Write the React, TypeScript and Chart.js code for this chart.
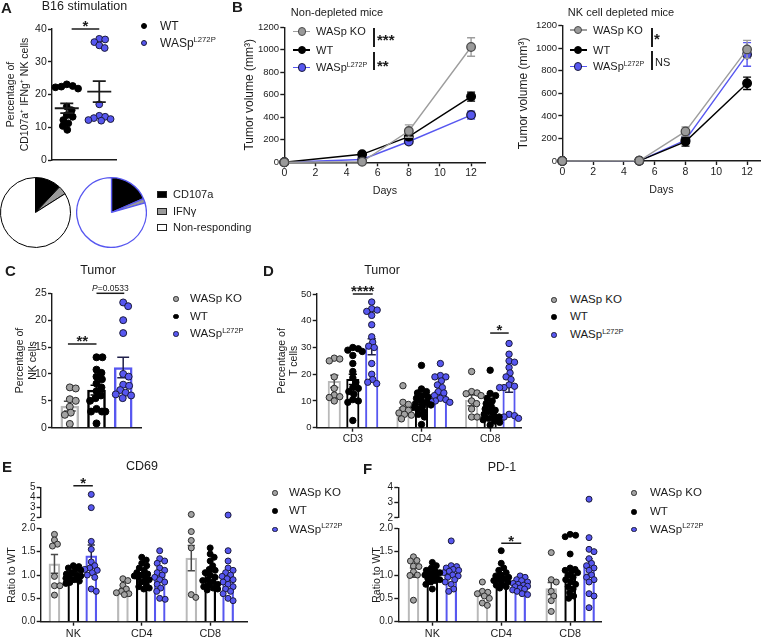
import React, { useEffect, useRef } from 'react';
import { Chart, registerables } from 'chart.js';

Chart.register(...registerables);

const FONT = '"Liberation Sans", Arial, Helvetica, sans-serif';
const INK = '#1b1b1b';
const BLUE = '#5757f0';

// ---------------- DATA ----------------
// Panel A
const aGroupLabels = ['WT', 'WASpL272P'];
const aWT = [23.1, 22.4, 22.6, 21.8, 22.2, 16.3, 15.2, 13.7, 13.2, 12.2, 11.2, 10.4, 9.2];
const aL272P = [37.0, 36.8, 36.0, 35.0, 34.2, 17.0, 13.5, 13.2, 12.8, 12.5, 12.2, 12.0];
const aMean = [15.8, 20.9];
const aSem = [1.5, 3.2];
const aYTicks = [0, 10, 20, 30, 40];
const pieLabels = ['CD107a', 'IFNγ', 'Non-responding'];
const pieWT = [12, 4, 84];
const pieL272P = [18.5, 2, 79.5];

// Panel B
const bDays = [0, 5, 8, 12];
const bXTicks = [0, 2, 4, 6, 8, 10, 12];
const bYTicks = [0, 200, 400, 600, 800, 1000, 1200];
const bNonKO = [0, 5, 278, 1025];
const bNonKOErr = [0, 3, 55, 82];
const bNonWT = [0, 71, 228, 584];
const bNonWTErr = [0, 8, 25, 40];
const bNonL = [0, 25, 185, 420];
const bNonLErr = [0, 5, 15, 35];
const bDepKO = [0, 2, 262, 990];
const bDepKOErr = [0, 2, 40, 80];
const bDepWT = [0, 2, 172, 689];
const bDepWTErr = [0, 2, 40, 55];
const bDepL = [0, 2, 186, 945];
const bDepLErr = [0, 2, 30, 105];

// Panel C
const cGroups = ['WASp KO', 'WT', 'WASpL272P'];
const cMeans = [4.0, 7.0, 11.2];
const cSems = [0.9, 0.9, 1.9];
const cKO = [7.5, 7.3, 5.3, 5.0, 3.9, 2.8, 2.4, 0.7];
const cWT = [13.1, 13.1, 10.8, 10.2, 9.5, 9.0, 8.2, 7.5, 6.8, 6.0, 5.5, 5.0, 3.5, 3.0, 3.0, 3.0, 0.8];
const cL = [23.3, 22.6, 20.0, 17.6, 10.0, 9.5, 8.0, 7.8, 7.0, 6.5, 6.2, 6.0, 5.5];
const cYTicks = [0, 5, 10, 15, 20, 25];

// Panel D
const dCells = ['CD3', 'CD4', 'CD8'];
const dKOMean = [17.3, 6.2, 10.2];
const dKOSem = [2.3, 1.2, 2.0];
const dWTMean = [18.1, 9.0, 6.6];
const dWTSem = [1.9, 1.2, 1.3];
const dLMean = [30.3, 13.8, 15.8];
const dLSem = [3.0, 1.2, 2.5];
const dKO = [
  [26.0, 25.7, 25.0, 19.0, 14.7, 12.2, 11.6, 11.3, 10.0],
  [15.7, 9.5, 8.7, 7.0, 6.5, 5.5, 5.0, 4.7, 3.3],
  [21.0, 13.5, 13.0, 12.7, 12.0, 10.0, 9.0, 7.0, 4.0, 4.0],
];
const dWT = [
  [30.0, 29.5, 29.0, 28.5, 27.0, 24.0, 21.0, 18.7, 17.0, 15.0, 14.7, 13.5, 12.5, 10.5, 10.0, 9.5, 2.7],
  [23.3, 14.5, 13.5, 13.0, 12.0, 11.5, 11.0, 10.0, 9.5, 9.0, 8.5, 8.0, 7.5, 7.0, 6.0, 5.0, 4.0, 1.2],
  [21.5, 12.8, 12.0, 11.0, 10.0, 9.0, 8.0, 7.0, 6.5, 6.0, 5.0, 4.5, 4.0, 3.5, 3.0, 2.5, 2.0, 1.0],
];
const dL = [
  [47.0, 44.5, 44.0, 43.5, 42.0, 38.5, 34.0, 32.0, 30.5, 30.0, 24.0, 20.0, 18.0, 17.0, 16.5],
  [24.0, 19.5, 19.0, 19.0, 17.5, 16.0, 15.0, 13.5, 13.0, 12.0, 11.0, 10.5, 10.0, 9.8, 9.5],
  [31.5, 27.5, 25.0, 24.5, 22.5, 20.5, 19.0, 18.0, 16.0, 15.5, 15.0, 15.0, 5.0, 4.5, 4.0, 3.5],
];
const dYTicks = [0, 10, 20, 30, 40, 50];

// Panel E (CD69)
const efCells = ['NK', 'CD4', 'CD8'];
const eKOMean = [1.24, 0.66, 1.36];
const eKOSem = [0.2, 0.05, 0.27];
const eWTMean = [1.04, 1.0, 1.01];
const eWTSem = [0.04, 0.05, 0.07];
const eLMean = [1.41, 0.98, 0.96];
const eLSem = [0.23, 0.07, 0.07];
const eKO = [
  [1.87, 1.75, 1.66, 1.62, 0.97, 0.77, 0.77, 0.57],
  [0.92, 0.88, 0.78, 0.7, 0.65, 0.62, 0.6, 0.58],
  [2.33, 1.93, 1.74, 1.58, 0.58, 0.52],
];
const eWT = [
  [1.2, 1.18, 1.15, 1.12, 1.1, 1.05, 1.02, 1.0, 0.98, 0.96, 0.93, 0.9, 0.87, 0.84, 0.82],
  [1.38, 1.32, 1.25, 1.2, 1.15, 1.1, 1.05, 1.02, 1.0, 0.98, 0.95, 0.92, 0.9, 0.85, 0.8, 0.75, 0.72, 0.7],
  [1.58, 1.45, 1.38, 1.3, 1.2, 1.12, 1.1, 1.05, 1.0, 0.95, 0.9, 0.88, 0.85, 0.8, 0.78, 0.75, 0.72, 0.7, 0.68],
];
const eL = [
  [4.3, 3.0, 1.72, 1.55, 1.28, 1.2, 1.15, 1.12, 1.1, 1.05, 1.0, 0.95, 0.7, 0.65],
  [1.52, 1.35, 1.3, 1.25, 1.15, 1.1, 1.05, 1.0, 0.95, 0.9, 0.85, 0.8, 0.72, 0.65, 0.5, 0.48],
  [2.27, 1.52, 1.3, 1.15, 1.1, 1.05, 1.0, 0.97, 0.92, 0.9, 0.85, 0.8, 0.75, 0.7, 0.65, 0.6, 0.5, 0.45],
];
const eUpperTicks = [2, 3, 4, 5];

// Panel F (PD-1)
const fKOMean = [1.05, 0.61, 0.71];
const fKOSem = [0.1, 0.05, 0.13];
const fWTMean = [1.04, 0.96, 1.01];
const fWTSem = [0.04, 0.07, 0.1];
const fLMean = [1.05, 0.75, 1.18];
const fLSem = [0.06, 0.04, 0.17];
const fKO = [
  [1.39, 1.31, 1.3, 1.19, 1.18, 1.07, 1.0, 0.99, 0.46],
  [0.85, 0.65, 0.63, 0.6, 0.55, 0.5, 0.4, 0.35],
  [1.48, 0.9, 0.85, 0.65, 0.55, 0.45, 0.22],
];
const fWT = [
  [1.27, 1.2, 1.15, 1.1, 1.08, 1.05, 1.03, 1.0, 0.98, 0.95, 0.92, 0.9, 0.88, 0.85, 0.8, 0.7],
  [1.52, 1.25, 1.15, 1.1, 1.05, 1.0, 0.98, 0.95, 0.92, 0.9, 0.88, 0.85, 0.8, 0.78, 0.75, 0.72],
  [1.87, 1.85, 1.82, 1.45, 1.15, 1.12, 1.1, 1.08, 1.05, 1.0, 0.95, 0.9, 0.85, 0.8, 0.75, 0.7, 0.62, 0.55, 0.5],
];
const fL = [
  [1.73, 1.2, 1.18, 1.15, 1.12, 1.1, 1.08, 1.05, 1.0, 0.98, 0.95, 0.9, 0.85, 0.8, 0.7, 0.65],
  [0.98, 0.95, 0.9, 0.88, 0.85, 0.82, 0.8, 0.78, 0.76, 0.75, 0.72, 0.7, 0.68, 0.65, 0.6, 0.58],
  [3.22, 1.8, 1.55, 1.5, 1.35, 1.25, 1.2, 1.15, 1.1, 1.0, 0.95, 0.9, 0.85, 0.6, 0.55, 0.3],
];
const fUpperTicks = [2, 3, 4];
const ratioTicks = [0, 0.5, 1, 1.5, 2];

// ---------------- STYLE ----------------
const SER = [
  { pt: '#a2a2a2', ptBorder: '#2a2a2a', bar: '#b9b9b9', err: '#4a4a4a', line: '#9d9d9d' },
  { pt: '#000000', ptBorder: '#000000', bar: '#000000', err: '#000000', line: '#000000' },
  { pt: BLUE, ptBorder: '#1a1a3a', bar: BLUE, err: '#20204a', line: BLUE },
];

// ---------------- PLUGINS ----------------
function drawErr(chart: any, index: number, kind: string) {
  const ds = chart.data.datasets[index];
  if (!ds || !ds.errorBars) return;
  const meta = chart.getDatasetMeta(index);
  if (meta.type !== kind) return;
  const ys = chart.scales[meta.yAxisID];
  const ctx = chart.ctx;
  ctx.save();
  ctx.strokeStyle = ds.errorColor;
  ctx.lineWidth = ds.errorWidth || 1.5;
  meta.data.forEach((el: any, i: number) => {
    const e = ds.errorBars[i];
    if (!e) return;
    const v = ds.data[i].y;
    const x = el.x;
    const yt = ys.getPixelForValue(v + e);
    const yb = ys.getPixelForValue(v - e);
    const c = ds.capHalf || 4;
    ctx.beginPath();
    ctx.moveTo(x, yb); ctx.lineTo(x, yt);
    ctx.moveTo(x - c, yt); ctx.lineTo(x + c, yt);
    ctx.moveTo(x - c, yb); ctx.lineTo(x + c, yb);
    ctx.stroke();
  });
  ctx.restore();
}
const errorBarPlugin = {
  id: 'errBars',
  beforeDatasetDraw(chart: any, args: any) { drawErr(chart, args.index, 'line'); },
  afterDatasetDraw(chart: any, args: any) { drawErr(chart, args.index, 'bar'); },
};
const meanSemPlugin = {
  id: 'meanSem',
  afterDatasetsDraw(chart: any, _a: any, o: any) {
    if (!o || !o.means) return;
    const xs = chart.scales.x, ys = chart.scales.y, ctx = chart.ctx;
    ctx.save();
    ctx.strokeStyle = INK;
    ctx.lineWidth = 1.8;
    o.means.forEach((m: number, i: number) => {
      const x = xs.getPixelForValue(i);
      const ym = ys.getPixelForValue(m);
      const yt = ys.getPixelForValue(m + o.sems[i]);
      const yb = ys.getPixelForValue(m - o.sems[i]);
      ctx.beginPath();
      ctx.moveTo(x - o.half, ym); ctx.lineTo(x + o.half, ym);
      ctx.moveTo(x, yt); ctx.lineTo(x, yb);
      ctx.moveTo(x - o.cap, yt); ctx.lineTo(x + o.cap, yt);
      ctx.moveTo(x - o.cap, yb); ctx.lineTo(x + o.cap, yb);
      ctx.stroke();
    });
    ctx.restore();
  },
};
const sigPlugin = {
  id: 'sig',
  afterDraw(chart: any, _a: any, o: any) {
    if (!o || !o.items) return;
    const xs = chart.scales.x, ys = chart.scales.y, ctx = chart.ctx;
    ctx.save();
    for (const it of o.items) {
      const x1 = xs.getPixelForValue(it.x1), x2 = xs.getPixelForValue(it.x2);
      const y = ys.getPixelForValue(it.y);
      ctx.strokeStyle = INK;
      ctx.lineWidth = 1.5;
      ctx.beginPath(); ctx.moveTo(x1, y); ctx.lineTo(x2, y); ctx.stroke();
      const cx = (x1 + x2) / 2;
      ctx.fillStyle = INK;
      ctx.textAlign = 'left';
      ctx.textBaseline = 'alphabetic';
      if (it.p) {
        ctx.font = `italic 8.5px ${FONT}`;
        const w1 = ctx.measureText('P').width;
        ctx.font = `8.5px ${FONT}`;
        const w2 = ctx.measureText(it.p).width;
        const sx = cx - (w1 + w2) / 2;
        ctx.font = `italic 8.5px ${FONT}`;
        ctx.fillText('P', sx, y - 2.5);
        ctx.font = `8.5px ${FONT}`;
        ctx.fillText(it.p, sx + w1, y - 2.5);
      } else {
        ctx.font = `bold 15px ${FONT}`;
        const w = ctx.measureText(it.text).width;
        ctx.fillText(it.text, cx - w / 2, y + 2.4);
      }
    }
    ctx.restore();
  },
};
Chart.register(errorBarPlugin as any, meanSemPlugin as any, sigPlugin as any);

// ---------------- HELPERS ----------------
function beeswarm(values: number[], pyu: number, r: number, maxHalf: number): number[] {
  const d = 2 * r;
  const placed: [number, number][] = [];
  const out = new Array(values.length).fill(0);
  const idx = values.map((_, i) => i).sort((a, b) => values[b] - values[a]);
  for (const i of idx) {
    const y = values[i] * pyu;
    let chosen = 0;
    let bestGap = -Infinity;
    for (let k = 0; k < 400; k++) {
      const off = (k % 2 === 1 ? 1 : -1) * Math.ceil(k / 2) * 0.5;
      if (Math.abs(off) > maxHalf) break;
      let gap = Infinity;
      for (const [px, py] of placed) gap = Math.min(gap, Math.hypot(px - off, py - y));
      if (gap >= d * 0.85) { chosen = off; break; }
      if (gap > bestGap) { bestGap = gap; chosen = off; }
    }
    placed.push([chosen, y]);
    out[i] = chosen;
  }
  return out;
}
function swarmPts(values: number[], gx: number, pxu: number, cfg: any) {
  const offs = beeswarm(values, cfg.pyu, cfg.r, cfg.maxHalf);
  return values.map((v, i) => ({ x: gx + offs[i] / pxu, y: v }));
}

function fit(g: any) {
  const left = Math.round(g.L - g.yW);
  const top = Math.round(g.T - g.padT);
  const yW = g.L - left;
  const padT = g.T - top;
  const width = Math.round(yW + (g.R - g.L) + g.padR);
  const padR = width - yW - (g.R - g.L);
  let padB = g.padB || 0;
  const height = Math.round(padT + (g.B - g.T) + (g.xH || 0) + padB);
  let xH = height - padT - (g.B - g.T) - padB;
  if (!g.xH) { padB = height - padT - (g.B - g.T); xH = 0; }
  return { rect: { left, top, width, height }, yW, padT, padR, padB, xH };
}

function yAxis(o: any) {
  return {
    type: 'linear', position: 'left', min: o.min, max: o.max, offset: false,
    afterFit: (s: any) => { s.width = o.yW; },
    afterBuildTicks: (s: any) => { s.ticks = o.ticks.map((v: number) => ({ value: v })); },
    border: { display: true, color: INK, width: 1.4 },
    grid: { display: true, offset: false, drawOnChartArea: false, drawTicks: true, tickLength: o.tickLen || 4, tickWidth: 1.4, tickColor: INK, color: INK },
    ticks: { color: INK, font: { family: FONT, size: o.size }, padding: o.tickPad ?? 1.2, autoSkip: false, callback: (v: any) => (o.fmt ? o.fmt(v) : String(v)) },
    title: o.title
      ? { display: true, text: o.title, color: INK, font: { family: FONT, size: o.tsize, lineHeight: o.tlh }, padding: { top: o.tpad, bottom: 0 } }
      : { display: false },
  };
}
function xAxis(o: any) {
  const has = !!o.ticks;
  return {
    type: 'linear', position: 'bottom', min: o.min, max: o.max, offset: false, display: o.display ?? true,
    afterFit: (s: any) => { s.height = o.xH; },
    afterBuildTicks: (s: any) => { s.ticks = (o.ticks || [o.min]).map((v: number) => ({ value: v })); },
    border: { display: true, color: INK, width: 1.4 },
    grid: { display: true, offset: false, drawOnChartArea: false, drawTicks: has, tickLength: 4, tickWidth: 1.4, tickColor: INK, color: INK },
    ticks: { display: has, color: INK, font: { family: FONT, size: o.size || 10.5 }, padding: o.tickPad ?? 1, maxRotation: 0, autoSkip: false, callback: (v: any) => (o.labels ? o.labels[v] : String(v)) },
    title: o.title
      ? { display: true, text: o.title, color: INK, font: { family: FONT, size: o.tsize || 10.7, lineHeight: 1.2 }, padding: { top: 0, bottom: 0 } }
      : { display: false },
  };
}
function opts(f: any, scales: any, plugins: any = {}) {
  return {
    responsive: false, animation: false, devicePixelRatio: 1, events: [],
    layout: { padding: { left: 0, top: f.padT, right: f.padR, bottom: f.padB } },
    scales,
    plugins: { legend: { display: false }, tooltip: { enabled: false }, title: { display: false }, ...plugins },
  };
}
function ptsDataset(data: any[], r: number, fill: string, stroke: string) {
  return { type: 'scatter', data, pointRadius: r, pointBackgroundColor: fill, pointBorderColor: stroke, pointBorderWidth: 1, showLine: false, order: 1, clip: false };
}

type GroupPanel = { offsets: number[]; means: number[][]; sems: number[][]; pts: number[][][] };
function barSets(p: GroupPanel, thick: number, bw: number) {
  return [0, 1, 2].map((s) => ({
    type: 'bar',
    data: p.means[s].map((m, g) => ({ x: g + p.offsets[s], y: m })),
    errorBars: p.sems[s], errorColor: SER[s].err, capHalf: thick * 0.33, errorWidth: 1.5,
    backgroundColor: '#ffffff', borderColor: SER[s].bar, borderWidth: bw, borderSkipped: 'start',
    barThickness: thick, grouped: false, order: 3,
  }));
}
function pointSets(p: GroupPanel, pxu: number, cfg: any, keep: (v: number) => boolean) {
  return [0, 1, 2].map((s) =>
    ptsDataset(
      p.pts[s].flatMap((vals, g) => swarmPts(vals.filter(keep), g + p.offsets[s], pxu, cfg)),
      cfg.r, SER[s].pt, SER[s].ptBorder,
    ),
  );
}
function titlePad(cx: number, f: any, size: number, lh: number) {
  return cx - f.rect.left - (size * lh) / 2;
}

// ---------------- CHART SPECS ----------------
function specA() {
  const f = fit({ L: 52, T: 29, R: 117, B: 160, yW: 50, padT: 16, padR: 4, xH: 8 });
  const pxu = 33;
  const cfg = { pyu: 131 / 40, r: 3.4, maxHalf: 13 };
  return {
    rect: f.rect,
    make: () => ({
      type: 'scatter',
      data: { datasets: [
        ptsDataset(swarmPts(aWT, 0, pxu, cfg), 3.4, '#000', '#000'),
        ptsDataset(swarmPts(aL272P, 1, pxu, cfg), 3.4, BLUE, '#1a1a3a'),
      ] },
      options: opts(f, {
        x: xAxis({ min: -0.4545, max: 1.515, xH: f.xH }),
        y: yAxis({ min: 0, max: 40, ticks: aYTicks, yW: f.yW, size: 10.5, title: ['Percentage of', 'CD107a⁺ IFNg⁺ NK cells'], tsize: 10.5, tlh: 1.3, tpad: titlePad(11, f, 10.5, 1.3) }),
      }, {
        meanSem: { means: aMean, sems: aSem, half: 12, cap: 6.5, labels: aGroupLabels },
        sig: { items: [{ x1: 0.15, x2: 1.0, y: 40, text: '*' }] },
      }),
    }),
  };
}
function specPie(cx: number, values: number[], border: string | string[], bw: number) {
  const size = 71;
  return {
    rect: { left: cx - size / 2, top: 177, width: size, height: size },
    make: () => ({
      type: 'pie',
      data: { labels: pieLabels, datasets: [{ data: values, backgroundColor: ['#000000', '#9a9a9a', '#ffffff'], borderColor: border, borderWidth: bw }] },
      options: { responsive: false, animation: false, devicePixelRatio: 1, events: [], layout: { padding: 0 }, plugins: { legend: { display: false }, tooltip: { enabled: false } } },
    }),
  };
}
function lineSeries(ys: number[], errs: number[], s: number, order: number) {
  return {
    type: 'line', data: bDays.map((d, i) => ({ x: d, y: ys[i] })),
    borderColor: SER[s].line, borderWidth: 1.4, tension: 0, fill: false,
    pointRadius: 4.3, pointBackgroundColor: s === 0 ? '#9a9a9a' : SER[s].pt, pointBorderColor: s === 0 ? '#4a4a4a' : SER[s].ptBorder, pointBorderWidth: 1.3,
    errorBars: errs, errorColor: SER[s].line, capHalf: 4, errorWidth: 1.4, order, clip: false,
  };
}
function specB(g: any, xMax: number, titleCx: number, series: any[]) {
  const f = fit(g);
  return {
    rect: f.rect,
    make: () => ({
      type: 'scatter',
      data: { datasets: series },
      options: opts(f, {
        x: xAxis({ min: 0, max: xMax, ticks: bXTicks, xH: f.xH, size: 10.5, tickPad: 1, title: 'Days', tsize: 10.7 }),
        y: yAxis({ min: 0, max: 1200, ticks: bYTicks, yW: f.yW, size: 9.5, title: 'Tumor volume (mm³)', tsize: 12, tlh: 1.2, tpad: titlePad(titleCx, f, 12, 1.2) }),
      }),
    }),
  };
}
function specC() {
  const f = fit({ L: 52, T: 293.3, R: 142, B: 427.7, yW: 40, padT: 16, padR: 4, xH: 8 });
  const pxu = 27;
  const cfg = { pyu: 134.4 / 25, r: 3.5, maxHalf: 9 };
  const p: GroupPanel = { offsets: [0, 1, 2], means: cMeans.map((m) => [m]), sems: cSems.map((s) => [s]), pts: [[cKO], [cWT], [cL]] };
  return {
    rect: f.rect,
    make: () => ({
      type: 'scatter',
      data: { labels: cGroups, datasets: [...barSets(p, 18, 2.5), ...pointSets(p, pxu, cfg, () => true)] },
      options: opts(f, {
        x: xAxis({ min: -0.667, max: 2.667, xH: f.xH }),
        y: yAxis({ min: 0, max: 25, ticks: cYTicks, yW: f.yW, size: 10.5, title: ['Percentage of', 'NK cells'], tsize: 10.5, tlh: 1.25, tpad: titlePad(20, f, 10.5, 1.25) }),
      }, {
        sig: { items: [
          { x1: -0.07, x2: 1.0, y: 15.57, text: '**' },
          { x1: 1.0, x2: 2.04, y: 25, p: '=0.0533' },
        ] },
      }),
    }),
  };
}
function specD() {
  const f = fit({ L: 316.7, T: 294, R: 522, B: 427.7, yW: 46.7, padT: 16, padR: 4, xH: 20 });
  const pxu = 69;
  const cfg = { pyu: 133.7 / 50, r: 3.2, maxHalf: 9.5 };
  const p: GroupPanel = { offsets: [-0.27, 0, 0.275], means: [dKOMean, dWTMean, dLMean], sems: [dKOSem, dWTSem, dLSem], pts: [dKO, dWT, dL] };
  return {
    rect: f.rect,
    make: () => ({
      type: 'scatter',
      data: { datasets: [...barSets(p, 12.5, 2), ...pointSets(p, pxu, cfg, () => true)] },
      options: opts(f, {
        x: xAxis({ min: -0.526, max: 2.449, ticks: [0, 1, 2], labels: dCells, xH: f.xH, size: 10.2, tickPad: 1.5 }),
        y: yAxis({ min: 0, max: 50, ticks: dYTicks, yW: f.yW, size: 9.5, title: ['Percentage of', 'T cells'], tsize: 10.5, tlh: 1.2, tpad: titlePad(281.7, f, 10.5, 1.2) }),
      }, {
        sig: { items: [
          { x1: 0, x2: 0.29, y: 50, text: '****' },
          { x1: 2.0, x2: 2.27, y: 35.4, text: '*' },
        ] },
      }),
    }),
  };
}
function specRatioLower(L: number, R: number, yW: number, g0: number, pxu: number, titleCx: number, p: GroupPanel, sig: any[]) {
  const f = fit({ L, T: 528.3, R, B: 621.7, yW, padT: 8, padR: 4, xH: 16.3 });
  const cfg = { pyu: 93.4 / 2, r: 3.0, maxHalf: 7.5 };
  return {
    rect: f.rect,
    make: () => ({
      type: 'scatter',
      data: { datasets: [...barSets(p, 11, 2.2), ...pointSets(p, pxu, cfg, (v) => v <= 2.05)] },
      options: opts(f, {
        x: xAxis({ min: (L - g0) / pxu, max: (R - g0) / pxu, ticks: [0, 1, 2], labels: efCells, xH: f.xH, size: 10.8, tickPad: 1.5 }),
        y: yAxis({ min: 0, max: 2, ticks: ratioTicks, yW: f.yW, size: 10, fmt: (v: number) => v.toFixed(1), title: 'Ratio to WT', tsize: 10.5, tlh: 1.2, tpad: titlePad(titleCx, f, 10.5, 1.2) }),
      }, { sig: { items: sig } }),
    }),
  };
}
function specRatioUpper(L: number, R: number, yW: number, g0: number, pxu: number, yMax: number, ticks: number[], p: GroupPanel, sig: any[]) {
  const f = fit({ L, T: 487.3, R, B: 518.3, yW, padT: 14, padR: 4, padB: 7 });
  const cfg = { pyu: 31 / (yMax - 2), r: 3.0, maxHalf: 7.5 };
  return {
    rect: f.rect,
    make: () => ({
      type: 'scatter',
      data: { datasets: pointSets(p, pxu, cfg, (v) => v > 2.05) },
      options: opts(f, {
        x: xAxis({ min: (L - g0) / pxu, max: (R - g0) / pxu, xH: 0, display: false }),
        y: yAxis({ min: 2, max: yMax, ticks, yW: f.yW, size: 10 }),
      }, { sig: { items: sig } }),
    }),
  };
}

const pE: GroupPanel = { offsets: [-0.276, 0, 0.262], means: [eKOMean, eWTMean, eLMean], sems: [eKOSem, eWTSem, eLSem], pts: [eKO, eWT, eL] };
const pF: GroupPanel = { offsets: [-0.274, 0, 0.274], means: [fKOMean, fWTMean, fLMean], sems: [fKOSem, fWTSem, fLSem], pts: [fKO, fWT, fL] };

const SPECS = [
  specA(),
  specPie(35.5, pieWT, '#000000', 1),
  specPie(111.3, pieL272P, BLUE, 1.3),
  specB({ L: 284.3, T: 27.3, R: 486.7, B: 162.3, yW: 44, padT: 8, padR: 4, xH: 35 }, 12.92, 250, [
    lineSeries(bNonKO, bNonKOErr, 0, 0), lineSeries(bNonWT, bNonWTErr, 1, 1), lineSeries(bNonL, bNonLErr, 2, 2),
  ]),
  specB({ L: 562.3, T: 25.7, R: 766, B: 161, yW: 48, padT: 8, padR: 0, xH: 35 }, 12.865, 523.3, [
    lineSeries(bDepKO, bDepKOErr, 0, 0), lineSeries(bDepWT, bDepWTErr, 1, 1), lineSeries(bDepL, bDepLErr, 2, 2),
  ]),
  specC(),
  specD(),
  specRatioLower(40.7, 248, 40.7, 73.5, 68.75, 11.7, pE, []),
  specRatioUpper(40.7, 248, 40.7, 73.5, 68.75, 5, eUpperTicks, pE, [{ x1: 0, x2: 0.285, y: 5.15, text: '*' }]),
  specRatioLower(398.3, 602, 36, 432.5, 69.25, 376.7, pF, [{ x1: 1.0, x2: 1.29, y: 1.68, text: '*' }]),
  specRatioUpper(398.3, 602, 36, 432.5, 69.25, 4, fUpperTicks, pF, []),
];

// ---------------- COMPONENTS ----------------
function ChartCanvas({ spec }: any) {
  const ref = useRef<HTMLCanvasElement | null>(null);
  useEffect(() => {
    if (!ref.current) return;
    const chart = new Chart(ref.current, spec.make());
    return () => chart.destroy();
  }, []);
  const r = spec.rect;
  return (
    <canvas ref={ref} width={Math.round(r.width)} height={Math.round(r.height)}
      style={{ position: 'absolute', left: r.left, top: r.top, width: Math.round(r.width), height: Math.round(r.height), display: 'block' }} />
  );
}

const Sup = ({ children }: any) => (
  <span style={{ fontSize: '0.64em', position: 'relative', top: '-0.62em' }}>{children}</span>
);
const L272 = () => (<>WASp<Sup>L272P</Sup></>);

function Txt({ x, cy, size, anchor = 'start', bold = false, children }: any) {
  const style: any = {
    position: 'absolute', left: x, top: cy - 0.4885 * size, fontSize: size, lineHeight: `${size}px`,
    fontFamily: FONT, fontWeight: bold ? 'bold' : 'normal', color: INK, whiteSpace: 'nowrap',
  };
  if (anchor === 'middle') style.transform = 'translateX(-50%)';
  return <div style={style}>{children}</div>;
}
function Stars({ x, cy, children }: any) {
  const size = 15;
  return (
    <div style={{ position: 'absolute', left: x, top: cy - 0.2665 * size, fontSize: size, lineHeight: `${size}px`, fontFamily: FONT, fontWeight: 'bold', color: INK, whiteSpace: 'nowrap' }}>{children}</div>
  );
}
function Dot({ x, cy, r, fill, stroke, bw = 1 }: any) {
  return (
    <div style={{ position: 'absolute', left: x - r, top: cy - r, width: 2 * r, height: 2 * r, borderRadius: '50%', background: fill, border: `${bw}px solid ${stroke}`, boxSizing: 'border-box' }} />
  );
}
function VLine({ x, y1, y2 }: any) {
  return <div style={{ position: 'absolute', left: x - 0.75, top: y1, width: 1.5, height: y2 - y1, background: INK }} />;
}
function LineKey({ x1, x2, cx, cy, s }: any) {
  return (
    <>
      <div style={{ position: 'absolute', left: x1, width: x2 - x1, top: cy - 0.7, height: 1.4, background: SER[s].line }} />
      <Dot x={cx} cy={cy} r={4.3} fill={s === 0 ? '#9a9a9a' : SER[s].pt} stroke={s === 0 ? '#4a4a4a' : SER[s].ptBorder} bw={1.3} />
    </>
  );
}
function DotLegend({ dx, tx, rows, size = 11.5, r = 2.7 }: any) {
  const names = [<>WASp KO</>, <>WT</>, <L272 />];
  return (
    <>
      {rows.map((cy: number, i: number) => (
        <React.Fragment key={i}>
          <Dot x={dx} cy={cy} r={r} fill={SER[i].pt} stroke={SER[i].ptBorder} />
          <Txt x={tx} cy={cy} size={size}>{names[i]}</Txt>
        </React.Fragment>
      ))}
    </>
  );
}
function LineLegend({ x1, x2, cx, tx, rows }: any) {
  const names = [<>WASp KO</>, <>WT</>, <L272 />];
  return (
    <>
      {rows.map((cy: number, i: number) => (
        <React.Fragment key={i}>
          <LineKey x1={x1} x2={x2} cx={cx} cy={cy} s={i} />
          <Txt x={tx} cy={cy} size={11}>{names[i]}</Txt>
        </React.Fragment>
      ))}
    </>
  );
}

export default function App() {
  const pieFill = ['#000000', '#9a9a9a', '#ffffff'];
  const pieRows = [194, 211, 227];
  return (
    <div style={{ position: 'absolute', left: 0, top: 0, width: 766, height: 638, background: '#ffffff', overflow: 'hidden', fontFamily: FONT }}>
      {SPECS.map((s, i) => <ChartCanvas key={i} spec={s} />)}

      {/* panel letters */}
      <Txt x={1} cy={7} size={15} bold>A</Txt>
      <Txt x={232} cy={6.5} size={15} bold>B</Txt>
      <Txt x={5} cy={270} size={15} bold>C</Txt>
      <Txt x={263} cy={270} size={15} bold>D</Txt>
      <Txt x={2} cy={466} size={15} bold>E</Txt>
      <Txt x={363} cy={468} size={15} bold>F</Txt>

      {/* titles */}
      <Txt x={84.5} cy={6.5} size={12.5} anchor="middle">B16 stimulation</Txt>
      <Txt x={337} cy={12.5} size={11} anchor="middle">Non-depleted mice</Txt>
      <Txt x={621} cy={12.5} size={11} anchor="middle">NK cell depleted mice</Txt>
      <Txt x={98} cy={270} size={12.5} anchor="middle">Tumor</Txt>
      <Txt x={382} cy={270} size={12.5} anchor="middle">Tumor</Txt>
      <Txt x={142} cy={466.5} size={12.5} anchor="middle">CD69</Txt>
      <Txt x={502} cy={467} size={12.5} anchor="middle">PD-1</Txt>

      {/* A legend */}
      <Dot x={144} cy={26} r={3.3} fill="#000" stroke="#000" />
      <Txt x={160} cy={26} size={12}>WT</Txt>
      <Dot x={144} cy={43} r={3.3} fill={BLUE} stroke="#1a1a3a" />
      <Txt x={160} cy={43} size={12}><L272 /></Txt>

      {/* pie legend */}
      {pieLabels.map((lab, i) => (
        <React.Fragment key={lab}>
          <div style={{ position: 'absolute', left: 157, top: pieRows[i] - 3.5, width: 10, height: 7, background: pieFill[i], border: '1px solid #222', boxSizing: 'border-box' }} />
          <Txt x={173} cy={pieRows[i]} size={11}>{lab}</Txt>
        </React.Fragment>
      ))}

      {/* B legends and brackets */}
      <LineLegend x1={293} x2={310} cx={302} tx={316} rows={[31.7, 50, 67.7]} />
      <VLine x={374} y1={28} y2={47} />
      <VLine x={374} y1={52} y2={70} />
      <Stars x={377} cy={35.7}>***</Stars>
      <Stars x={377} cy={61.5}>**</Stars>

      <LineLegend x1={570} x2={587} cx={578} tx={593} rows={[30, 50, 66.7]} />
      <VLine x={652} y1={28} y2={47} />
      <VLine x={652} y1={51} y2={70} />
      <Stars x={654} cy={35}>*</Stars>
      <Txt x={655} cy={62.5} size={11}>NS</Txt>

      {/* C, D, E, F legends */}
      <DotLegend dx={176} tx={190} rows={[299, 316.5, 334]} />
      <DotLegend dx={554} tx={570} rows={[300, 317, 335]} />
      <DotLegend dx={275} tx={289} rows={[493, 511, 529.5]} />
      <DotLegend dx={634} tx={650} rows={[493, 512, 529.5]} />
    </div>
  );
}
